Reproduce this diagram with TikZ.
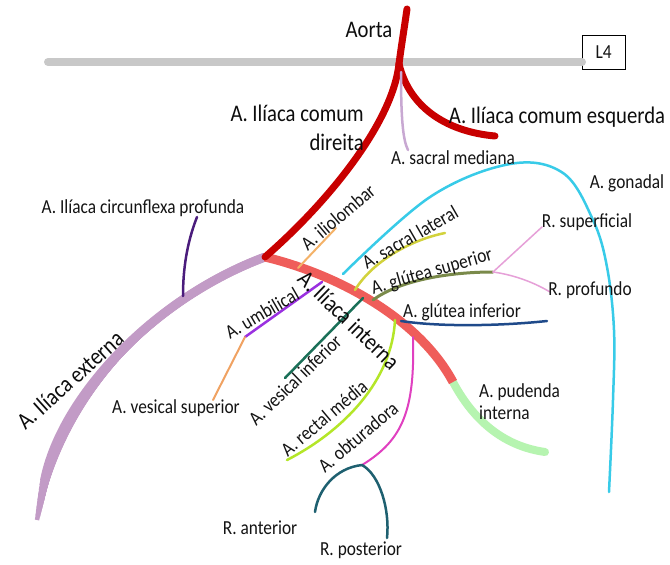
\documentclass[tikz,border=0pt]{standalone}
\usepackage{fontspec}
\setmainfont{Carlito}[FakeStretch=0.87]
\definecolor{aortared}{HTML}{C80000}
\definecolor{lfourgray}{HTML}{C8C8C8}
\definecolor{intred}{HTML}{EF5D5A}
\definecolor{extmauve}{HTML}{C29BC6}
\definecolor{pudgreen}{HTML}{B6F4B0}
\definecolor{medlilac}{HTML}{C8A8D2}
\definecolor{cxpurple}{HTML}{4A1C7C}
\definecolor{ilorange}{HTML}{F4B268}
\definecolor{latyellow}{HTML}{D2D23C}
\definecolor{gonadcyan}{HTML}{38CBE8}
\definecolor{gsolive}{HTML}{7A8A4A}
\definecolor{branchpink}{HTML}{E6A0D8}
\definecolor{gibblue}{HTML}{1F4A8A}
\definecolor{umbpurple}{HTML}{9A30E0}
\definecolor{vsorange}{HTML}{F0A262}
\definecolor{vigreen}{HTML}{1A7058}
\definecolor{rmlime}{HTML}{B4E628}
\definecolor{obmagenta}{HTML}{E040C0}
\definecolor{obteal}{HTML}{1E6070}
\begin{document}
\begin{tikzpicture}[x=1pt,y=-1pt,
  vessel/.style={line cap=round},
  lbl/.style={font=\fontsize{19.9}{22}\selectfont, inner sep=0pt, text=black!92},
  biglbl/.style={font=\fontsize{23.8}{29}\selectfont, inner sep=0pt, text=black!95},
]
\useasboundingbox[fill=white] (0,0) rectangle (670,565);

% key points of the arterial tree
\coordinate (aoTop) at (407,9);
\coordinate (bif)   at (399,64);
\coordinate (ilR)   at (265,257);
\coordinate (extE)  at (37,520);
\coordinate (pudS)  at (453,382);
\coordinate (cxS)   at (183,296);
\coordinate (gsE)   at (493,272);
\coordinate (obS)   at (362,465);
\coordinate (umbE)  at (245,337);

% vertebral level L4
\node[draw, lbl, minimum width=43pt, minimum height=34pt, anchor=north west, fill=white] (L4) at (582,35) {L4};
\coordinate (lineL) at (48,62);
\draw[vessel, lfourgray, line width=8pt] (lineL) -- (L4.west |- lineL);

% aorta
\draw[vessel, aortared, line width=7pt] (aoTop) .. controls (404,30) and (401,48) .. (bif);

% external iliac, narrowing smoothly towards its lower end
\foreach \w/\s in {4.5/0, 5/4, 5.5/8, 6/12, 6.5/16, 7/20, 7.5/25, 8/30, 8.5/35, 9/40}
  \draw[extmauve, line width=\w pt, shorten >=\s pt] (ilR) .. controls (150,300) and (60,400) .. (extE);

% internal iliac and internal pudendal
\draw[vessel, pudgreen, line width=8pt] (pudS) .. controls (468,410) and (495,445) .. (545,452);
\draw[intred, line width=9pt] (ilR) .. controls (340,275) and (420,320) .. (pudS);

% common iliac arteries
\draw[vessel, aortared, line width=7pt] (bif) .. controls (392,125) and (325,205) .. (ilR);
\draw[vessel, aortared, line width=7pt] (bif) .. controls (410,110) and (450,132) .. (495,136);

% median sacral
\draw[vessel, medlilac, line width=2.5pt] (401,72) .. controls (401,120) and (403,140) .. (408,150);

% deep circumflex iliac
\draw[vessel, cxpurple, line width=2.5pt] (cxS) .. controls (183,260) and (190,235) .. (197,217);

% branches of the internal iliac
\draw[vessel, ilorange, line width=2pt] (298,268) -- (336,228);
\draw[vessel, umbpurple, line width=2.5pt] (322,282) -- (umbE);
\draw[vessel, vsorange, line width=2pt] (umbE) -- (213,400);
\draw[vessel, latyellow, line width=2.5pt] (355,290) .. controls (372,262) and (410,240) .. (445,233);
\draw[vessel, gonadcyan, line width=2.5pt] plot[smooth, tension=0.6] coordinates
  {(343,274) (430,197) (510,164) (563,173) (593,220) (607,267) (614,330) (613,400) (609,492)};
\draw[vessel, gsolive, line width=3pt] (373,300) .. controls (400,280) and (450,272) .. (gsE);
\draw[vessel, branchpink, line width=1.5pt] (gsE) -- (542,227);
\draw[vessel, branchpink, line width=1.5pt] (gsE) .. controls (515,275) and (535,283) .. (550,292);
\draw[vessel, gibblue, line width=2.5pt] (401,321) .. controls (440,327) and (500,326) .. (547,321);
\draw[vessel, vigreen, line width=2.5pt] (363,298) -- (285,378);
\draw[vessel, rmlime, line width=2.5pt] (395,320) .. controls (392,380) and (345,430) .. (287,460);
\draw[vessel, obmagenta, line width=2pt] (413,337) .. controls (415,410) and (403,440) .. (obS);
\draw[vessel, obteal, line width=2.5pt] (obS) .. controls (335,468) and (318,490) .. (315,512);
\draw[vessel, obteal, line width=2.5pt] (obS) .. controls (380,475) and (390,510) .. (387,538);

% labels
\node[biglbl] (tAorta) at (369,30) {Aorta};
\node[biglbl, align=right, anchor=east] (tCD) at (364,128) {A. Ilíaca comum\\direita};
\node[biglbl] (tCE) at (557,117) {A. Ilíaca comum esquerda};
\node[biglbl, rotate=42] (tExt) at (70,380) {A. Ilíaca externa};
\node[biglbl, rotate=-44] (tInt) at (349,320) {A. Ilíaca interna};

\node[lbl] (tMed) at (453,158) {A. sacral mediana};
\node[lbl] (tCx) at (143,208) {A. Ilíaca circunflexa profunda};
\node[lbl] (tGon) at (627,183) {A. gonadal};
\node[lbl] (tRS) at (587,222) {R. superficial};
\node[lbl] (tRP) at (590,290) {R. profundo};
\node[lbl] (tGI) at (462,312) {A. glútea inferior};
\node[lbl] (tVS) at (176,408) {A. vesical superior};
\node[lbl, align=left, anchor=west] (tPud) at (479,402) {A. pudenda\\interna};
\node[lbl] (tRA) at (260,528) {R. anterior};
\node[lbl] (tRPo) at (361,550) {R. posterior};
\node[lbl, rotate=40] (tIL) at (338,217) {A. iliolombar};
\node[lbl, rotate=30] (tSL) at (410,237) {A. sacral lateral};
\node[lbl, rotate=16] (tGS) at (432,272) {A. glútea superior};
\node[lbl, rotate=30] (tUmb) at (262,313) {A. umbilical};
\node[lbl, rotate=44] (tVI) at (295,380) {A. vesical inferior};
\node[lbl, rotate=40] (tRM) at (324,418) {A. rectal média};
\node[lbl, rotate=40] (tOb) at (358,437) {A. obturadora};
\end{tikzpicture}
\end{document}
